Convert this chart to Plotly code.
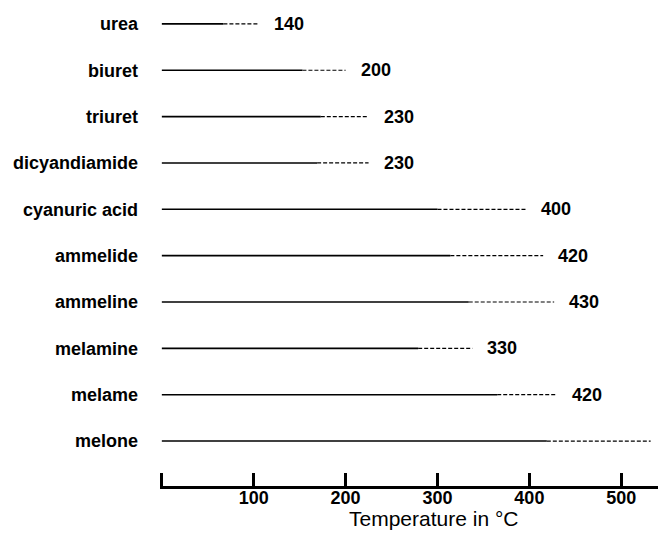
import plotly.graph_objects as go

compounds = ["urea", "biuret", "triuret", "dicyandiamide", "cyanuric acid",
             "ammelide", "ammeline", "melamine", "melame", "melone"]
solid_end = [67, 153, 173, 169, 300, 314, 334, 279, 365, 419]
dash_end = [106, 200, 225, 225, 396, 415, 427, 338, 430, 532]
value_labels = ["140", "200", "230", "230", "400", "420", "430", "330", "420", ""]
x_ticks = [0, 100, 200, 300, 400, 500]
x_ticklabels = ["", "100", "200", "300", "400", "500"]

FONT = "Liberation Sans, Arial, Helvetica, sans-serif"

fig = go.Figure()
for i, name in enumerate(compounds):
    fig.add_trace(go.Scatter(x=[0, solid_end[i]], y=[i, i], mode="lines",
                             line=dict(color="black", width=1.6),
                             showlegend=False, hoverinfo="skip"))
    fig.add_trace(go.Scatter(x=[solid_end[i], dash_end[i]], y=[i, i], mode="lines",
                             line=dict(color="black", width=1.2, dash="4px,2px"),
                             showlegend=False, hoverinfo="skip"))
    if value_labels[i]:
        fig.add_annotation(x=dash_end[i], y=i, text=value_labels[i], showarrow=False,
                           xanchor="left", yanchor="middle", xshift=13,
                           font=dict(family=FONT, size=18, color="black", weight="bold"))

fig.add_annotation(x=296, y=0, yref="paper", yshift=-19, text="Temperature in °C",
                   showarrow=False, xanchor="center", yanchor="top",
                   font=dict(family=FONT, size=21, color="black"))

fig.update_layout(
    width=658, height=544,
    margin=dict(l=160, r=0, t=10, b=58),
    plot_bgcolor="white", paper_bgcolor="white",
    xaxis=dict(range=[-2, 540], tickvals=x_ticks, ticktext=x_ticklabels,
               ticks="inside", ticklen=13, tickwidth=2.5, tickcolor="black",
               showline=True, linewidth=3, linecolor="black",
               showgrid=False, zeroline=False, ticklabelstandoff=-7,
               tickfont=dict(family=FONT, size=18, color="black", weight="bold")),
    yaxis=dict(range=[9.97, -0.30], tickvals=list(range(len(compounds))),
               ticktext=compounds, showgrid=False, zeroline=False,
               showline=False, ticks="", ticklabelstandoff=21,
               tickfont=dict(family=FONT, size=18, color="black", weight="bold")),
)

fig.write_html("out.html")
